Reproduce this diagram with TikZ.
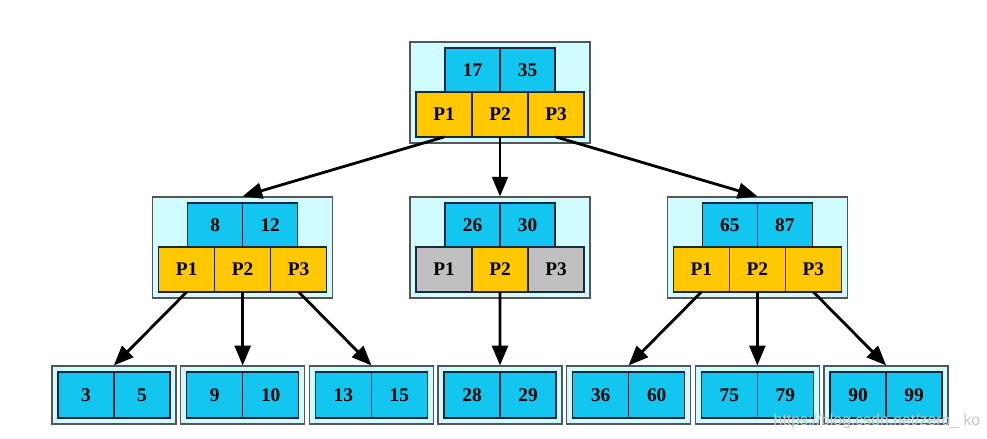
\documentclass[tikz,border=0pt]{standalone}
\usepackage{fontspec}
\setmainfont{Liberation Serif}
\newfontfamily\markfont{Liberation Sans}
\usetikzlibrary{positioning}
\usetikzlibrary{fit}
\usetikzlibrary{backgrounds}
\usetikzlibrary{arrows}
\definecolor{keyblue}{RGB}{18,198,240}
\definecolor{ptryellow}{RGB}{255,200,0}
\definecolor{ptrgray}{RGB}{192,192,192}
\definecolor{framecyan}{RGB}{208,252,255}
\definecolor{framegray}{RGB}{85,85,85}
\definecolor{cellline}{RGB}{30,40,60}
\tikzstyle{cell} = [rectangle, draw=cellline, line width=0.7pt, inner sep=0pt,
outer sep=0pt, font=\bfseries\fontsize{11}{11}\selectfont]
\tikzstyle{key} = [cell, fill=keyblue, minimum width=1.1cm, minimum height=0.88cm]
\tikzstyle{ptr} = [cell, fill=ptryellow, minimum width=1.12cm, minimum height=0.9cm]
\tikzstyle{nullptr} = [ptr, fill=ptrgray]
\tikzstyle{leafkey} = [cell, fill=keyblue, minimum width=1.12cm, minimum height=0.92cm]
\tikzstyle{frame} = [rectangle, draw=framegray, line width=0.8pt, fill=framecyan,
inner sep=0.12cm]
\tikzstyle{link} = [->, line width=1.6pt]
\tikzset{>={triangle 45}}
\newcommand{\bnode}[6]{ %
  % inner node: name, centre x, pointer row y, two keys, style of P1 and P3
  \node[ptr] (#1p2) at (#2,#3) {P2};
  \node[#6, left=0pt of #1p2] (#1p1) {P1};
  \node[#6, right=0pt of #1p2] (#1p3) {P3};
  \node[key, anchor=south east] (#1k1) at (#1p2.north) {#4};
  \node[key, anchor=south west] (#1k2) at (#1p2.north) {#5};
  \begin{scope}[on background layer]
    \node[frame, fit=(#1p1) (#1p3) (#1k1)] (#1) {};
  \end{scope}
}
\newcommand{\leafnode}[4]{ %
  % leaf: name, centre x, two keys
  \node[leafkey, anchor=east] (#1a) at (#2,395) {#3};
  \node[leafkey, anchor=west] (#1b) at (#2,395) {#4};
  \begin{scope}[on background layer]
    \node[frame, fit=(#1a) (#1b)] (#1) {};
  \end{scope}
}

\begin{document}
\begin{tikzpicture}[x=0.02cm, y=-0.02cm]
  \useasboundingbox (0,0) rectangle (987,439);

  \bnode{root}{500}{114.5}{17}{35}{ptr}
  \bnode{mA}{242.67}{269.5}{8}{12}{ptr}
  \bnode{mB}{500}{269.5}{26}{30}{nullptr}
  \bnode{mC}{757.35}{269.5}{65}{87}{ptr}

  \foreach \a/\b [count=\i, evaluate=\i as \cx using 114+128.67*(\i-1)]
      in {3/5, 9/10, 13/15, 28/29, 36/60, 75/79, 90/99} {
    \leafnode{leaf\i}{\cx}{\a}{\b}
  }

  \foreach \s/\t in {rootp1/mA, rootp2/mB, rootp3/mC,
                     mAp1/leaf1, mAp2/leaf2, mAp3/leaf3, mBp2/leaf4,
                     mCp1/leaf5, mCp2/leaf6, mCp3/leaf7} {
    \draw[link] (\s.south) -- (\t.north);
  }

  \node[font=\markfont\fontsize{9}{9}\selectfont, text=gray!45] (mark) at (877,421)
    {https://blog.csdn.net/zero\_ ko};
\end{tikzpicture}
\end{document}
